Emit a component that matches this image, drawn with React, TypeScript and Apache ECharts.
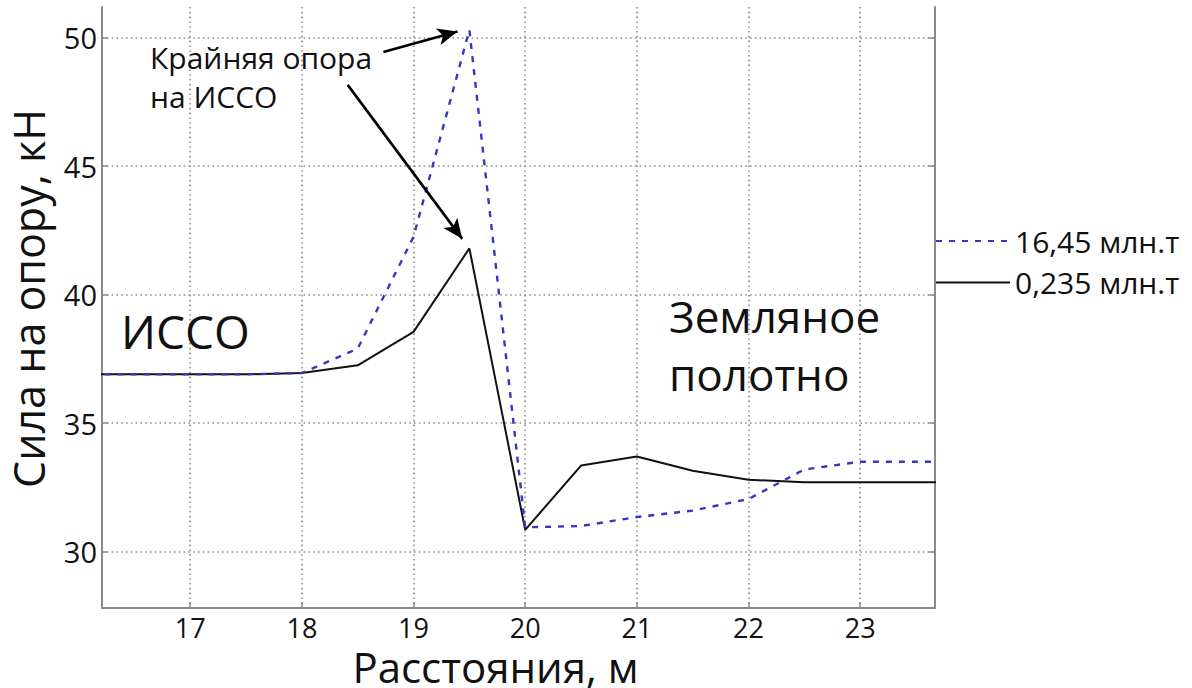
import React, { useEffect, useRef } from "react";
import * as echarts from "echarts";

// Distance along the track, m
const xs = [16, 16.5, 17, 17.5, 18, 18.5, 19, 19.5, 20, 20.5, 21, 21.5, 22, 22.5, 23, 23.5, 24];
// 16,45 млн.т (blue dashed)
const heavy = [36.9, 36.9, 36.9, 36.9, 36.95, 37.9, 42.25, 50.3, 30.95, 31.0, 31.35, 31.6, 32.05, 33.2, 33.5, 33.5, 33.5];
// 0,235 млн.т (black solid)
const light = [36.9, 36.9, 36.9, 36.9, 36.95, 37.25, 38.55, 41.8, 30.85, 33.35, 33.7, 33.15, 32.8, 32.7, 32.7, 32.7, 32.7];

const xTicks = [17, 18, 19, 20, 21, 22, 23];
const yTicks = [30, 35, 40, 45, 50];
const seriesNames = ["16,45 млн.т", "0,235 млн.т"];

// annotation arrows in data coordinates: [fromX, fromY, toX, toY]
const arrows = [
  [18.73, 49.44, 19.394, 50.24],
  [18.41, 48.16, 19.436, 42.17],
];

const FONT = "'Open Sans', 'Noto Sans', sans-serif";
const INK = "#111";
const AXIS = "#8a8a8a";
const BLUE = "#3636c0";

export default function App() {
  const ref = useRef<HTMLDivElement>(null);
  useEffect(() => {
    if (!ref.current) return;
    const chart = echarts.init(ref.current, null, { renderer: "svg" });
    const pair = (ys: number[]) => xs.map((x, i) => [x, ys[i]]);
    const option: any = {
      animation: false,
      backgroundColor: "#fff",
      textStyle: { fontFamily: FONT },
      grid: { left: 102, right: 257, top: 7, bottom: 80, containLabel: false, outerBoundsMode: "none" },
      legend: {
        data: seriesNames,
        orient: "vertical",
        left: 935,
        top: 226,
        padding: 0,
        itemWidth: 74,
        itemHeight: 26,
        itemGap: 11.6,
        itemStyle: { opacity: 0 },
        textStyle: { fontFamily: FONT, fontSize: 30, color: INK },
        selectedMode: false,
      },
      xAxis: {
        type: "value",
        min: 16.21,
        max: 23.67,
        splitNumber: 7,
        name: "Расстояния, м",
        nameLocation: "middle",
        nameGap: 32,
        nameTextStyle: { fontFamily: FONT, fontSize: 42, lineHeight: 38, color: INK, padding: [0, 46, 0, 0] },
        axisLine: { show: true, onZero: false, lineStyle: { color: AXIS, width: 2 } },
        axisTick: { show: true, inside: true, length: 6, customValues: xTicks, lineStyle: { color: AXIS, width: 1.5 } },
        axisLabel: { customValues: xTicks, fontFamily: FONT, fontSize: 27, lineHeight: 27, color: INK, margin: 6 },
        splitLine: { show: true, lineStyle: { color: AXIS, width: 1.6, type: [1.6, 3.2] } },
      },
      yAxis: [
        {
          type: "value",
          min: 27.81,
          max: 51.19,
          splitNumber: 5,
          name: "Сила на опору, кН",
          nameLocation: "middle",
          nameGap: 52,
          nameRotate: 90,
          nameTextStyle: { fontFamily: FONT, fontSize: 43, color: INK, padding: [0, 0, 0, 18] },
          axisLine: { show: true, onZero: false, lineStyle: { color: AXIS, width: 2 } },
          axisTick: { show: true, inside: true, length: 6, customValues: yTicks, lineStyle: { color: AXIS, width: 1.5 } },
          axisLabel: { customValues: yTicks, fontFamily: FONT, fontSize: 29, color: INK, margin: 5 },
          splitLine: { show: true, lineStyle: { color: AXIS, width: 1.6, type: [1.6, 3.2] } },
        },
        {
          type: "value",
          min: 27.81,
          max: 51.19,
          splitNumber: 5,
          position: "right",
          axisLine: { show: true, onZero: false, lineStyle: { color: AXIS, width: 2 } },
          axisTick: { show: true, inside: true, length: 6, customValues: yTicks, lineStyle: { color: AXIS, width: 1.5 } },
          axisLabel: { show: false },
          splitLine: { show: false },
        },
      ],
      series: [
        {
          name: seriesNames[1],
          type: "line",
          data: pair(light),
          showSymbol: false,
          symbol: "none",
          clip: true,
          z: 2,
          lineStyle: { color: INK, width: 2, type: "solid" },
          itemStyle: { color: INK },
          emphasis: { disabled: true },
          markLine: {
            silent: true,
            symbol: ["none", "arrow"],
            symbolSize: [13, 20],
            label: { show: false },
            emphasis: { disabled: true },
            lineStyle: { color: "#000", width: 2.6, type: "solid" },
            data: arrows.map((a) => [{ coord: [a[0], a[1]] }, { coord: [a[2], a[3]] }]),
          },
        },
        {
          name: seriesNames[0],
          type: "line",
          data: pair(heavy),
          showSymbol: false,
          symbol: "none",
          clip: true,
          z: 3,
          lineStyle: { color: BLUE, width: 2.4, type: [6, 7] },
          itemStyle: { color: BLUE },
          emphasis: { disabled: true },
        },
      ],
      graphic: [
        {
          type: "text", x: 150, y: 38, silent: true, z: 10,
          style: { text: "Крайняя опора\nна ИССО", font: `30px ${FONT}`, lineHeight: 39, fill: INK },
        },
        {
          type: "text", x: 121, y: 331, silent: true, z: 10,
          style: { text: "ИССО", font: `46px ${FONT}`, fill: INK, verticalAlign: "middle" },
        },
        {
          type: "text", x: 669, y: 316, silent: true, z: 10,
          style: { text: "Земляное", font: `44px ${FONT}`, fill: INK, verticalAlign: "middle" },
        },
        {
          type: "text", x: 669, y: 374, silent: true, z: 10,
          style: { text: "полотно", font: `44px ${FONT}`, fill: INK, verticalAlign: "middle" },
        },
      ],
    };
    chart.setOption(option);
    return () => chart.dispose();
  }, []);
  return (
    <div
      ref={ref}
      style={{ position: "fixed", left: 0, top: 0, width: 1192, height: 688, background: "#fff" }}
    />
  );
}
